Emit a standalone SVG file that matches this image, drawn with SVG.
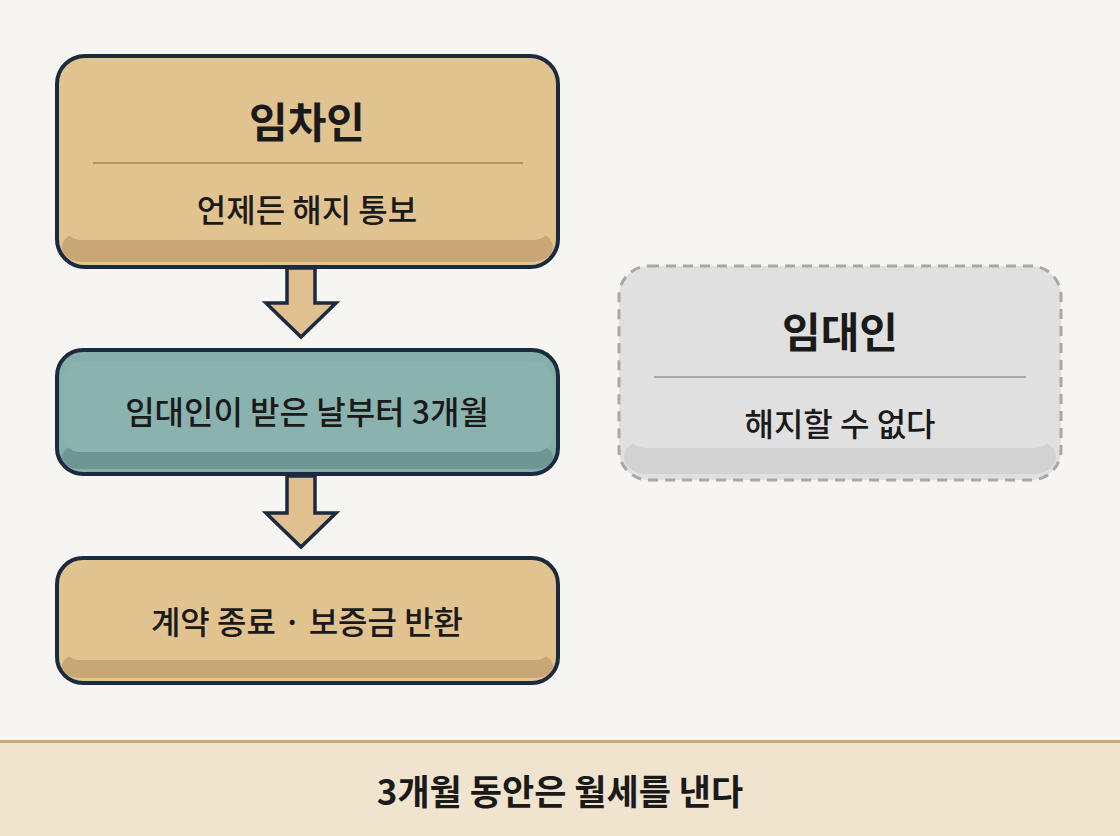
<svg xmlns="http://www.w3.org/2000/svg" width="1120" height="836" viewBox="0 0 1120 836">
<style>
text{font-family:"Noto Sans CJK KR","Noto Sans",sans-serif;text-anchor:middle;fill:#1a1a1a}
.t{font-size:42px;font-weight:700}
.s{font-size:32px;font-weight:500}
.box{stroke:#1c2a40;stroke-width:4}
.arr{fill:#dfc08e;stroke:#1c2a40;stroke-width:3.5;stroke-linejoin:miter}
</style>
<rect width="1120" height="836" fill="#f6f5f2"/>
<g id="tenant">
<rect class="box" x="57" y="56" width="501" height="211" rx="28" fill="#e1c38f"/>
<rect x="62" y="232" width="491" height="30" rx="20" fill="#c9a675"/>
<rect x="62" y="70" width="491" height="170" rx="20" fill="#e1c38f"/>
<line x1="93" y1="163" x2="523" y2="163" stroke="#b8925a" stroke-width="2"/>
<text class="t" x="307" y="138">임차인</text>
<text class="s" x="307" y="222">언제든 해지 통보</text>
</g>
<g id="period">
<rect class="box" x="57" y="350" width="501" height="124" rx="26" fill="#86aeaa"/>
<rect x="62" y="445" width="491" height="24" rx="18" fill="#6e9793"/>
<rect x="62" y="362" width="491" height="90" rx="18" fill="#8ab2ae"/>
<text class="s" x="307" y="424">임대인이 받은 날부터 3개월</text>
</g>
<g id="end">
<rect class="box" x="57" y="558" width="501" height="125" rx="26" fill="#e1c38f"/>
<rect x="62" y="654" width="491" height="24" rx="18" fill="#c9a675"/>
<rect x="62" y="570" width="491" height="90" rx="18" fill="#e1c38f"/>
<text class="s" x="307" y="634">계약 종료 · 보증금 반환</text>
</g>
<g id="landlord">
<rect x="619" y="266" width="442" height="214" rx="30" fill="#e0e0e0" stroke="#a8a8a8" stroke-width="3" stroke-dasharray="10 7"/>
<rect x="624" y="440" width="432" height="34" rx="22" fill="#d2d2d2"/>
<rect x="624" y="280" width="432" height="168" rx="22" fill="#e0e0e0"/>
<line x1="654" y1="377" x2="1026" y2="377" stroke="#a8a8a8" stroke-width="2"/>
<text class="t" x="840" y="348">임대인</text>
<text class="s" x="840" y="436">해지할 수 없다</text>
</g>
<g id="connectors">
<polygon class="arr" points="287,268 315,268 315,303 336,303 301,337 266,303 287,303"/>
<polygon class="arr" points="287,476 315,476 315,513 336,513 301,547 266,513 287,513"/>
</g>
<g id="footer">
<rect x="0" y="740" width="1120" height="96" fill="#f1e4cf"/>
<line x1="0" y1="741.5" x2="1120" y2="741.5" stroke="#c8a97a" stroke-width="3"/>
<text x="560" y="805" style="font-size:35px;font-weight:700">3개월 동안은 월세를 낸다</text>
</g>
</svg>
